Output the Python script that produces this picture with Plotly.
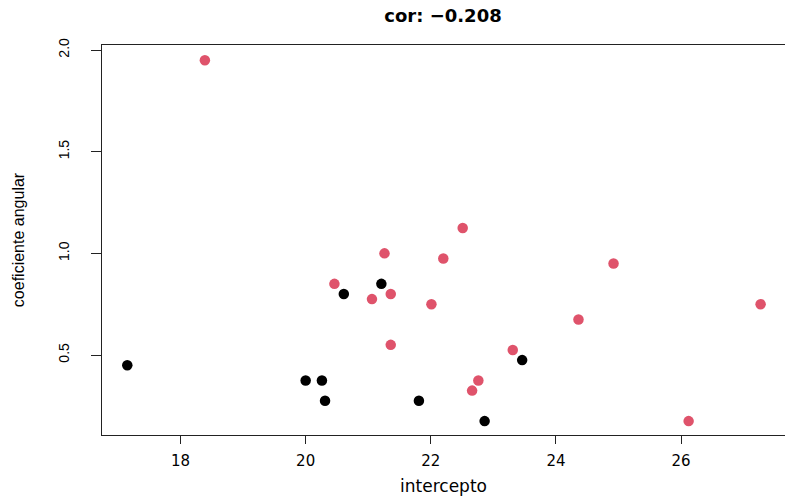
import plotly.graph_objects as go

# Intercept / slope pairs per group
black_intercepto = [17.15, 20.00, 20.26, 20.31, 20.61, 21.21, 21.81, 22.86, 23.46]
black_coef = [0.45, 0.375, 0.375, 0.275, 0.80, 0.85, 0.275, 0.175, 0.475]

red_intercepto = [18.39, 20.46, 21.06, 21.26, 21.36, 21.36, 22.01, 22.20, 22.51,
                  22.76, 22.66, 23.31, 24.36, 24.92, 26.12, 27.27]
red_coef = [1.95, 0.85, 0.775, 1.00, 0.80, 0.55, 0.75, 0.975, 1.125,
            0.375, 0.325, 0.525, 0.675, 0.95, 0.175, 0.75]

x_ticks = [18, 20, 22, 24, 26]
y_ticks = [0.5, 1.0, 1.5, 2.0]
y_tick_text = ["0.5", "1.0", "1.5", "2.0"]

FONT = "Liberation Sans, Arial, Helvetica, sans-serif"
WIDE = "DejaVu Sans, Liberation Sans, sans-serif"
NARROW = "Liberation Sans Narrow, Arial Narrow, Liberation Sans, sans-serif"

fig = go.Figure()
fig.add_trace(go.Scatter(
    x=black_intercepto, y=black_coef, mode="markers",
    marker=dict(color="black", size=10.5, line=dict(width=0)),
    showlegend=False,
))
fig.add_trace(go.Scatter(
    x=red_intercepto, y=red_coef, mode="markers",
    marker=dict(color="#DF536B", size=10.5, line=dict(width=0)),
    showlegend=False,
))

fig.update_layout(
    width=785, height=496,
    margin=dict(l=102, r=0, t=45, b=61),
    paper_bgcolor="white", plot_bgcolor="white",
    font=dict(family=FONT, color="black"),
    title=dict(
        text="<b>cor: \u22120.208</b>",
        x=443 / 785, xref="container", xanchor="center",
        y=1 - 16 / 496, yref="container", yanchor="middle",
        font=dict(size=18, family=WIDE),
    ),
)

fig.update_xaxes(
    range=[16.746, 27.66], tickvals=x_ticks,
    showgrid=False, zeroline=False,
    showline=True, linecolor="#222222", linewidth=1, mirror=True,
    ticks="outside", ticklen=8, tickcolor="#222222",
    tickfont=dict(size=15, family=WIDE), ticklabelstandoff=4,
    title=dict(text="intercepto", font=dict(size=17, family=WIDE), standoff=13),
)
fig.update_yaxes(
    range=[0.1066, 2.0246], tickvals=y_ticks, ticktext=y_tick_text,
    showgrid=False, zeroline=False,
    showline=True, linecolor="#222222", linewidth=1, mirror=True,
    ticks="outside", ticklen=10, tickcolor="#222222",
    tickangle=-90, tickfont=dict(size=14, family=NARROW), ticklabelstandoff=16,
    title=dict(text="coeficiente angular", font=dict(size=16), standoff=27),
)

fig.write_html("out.html")
